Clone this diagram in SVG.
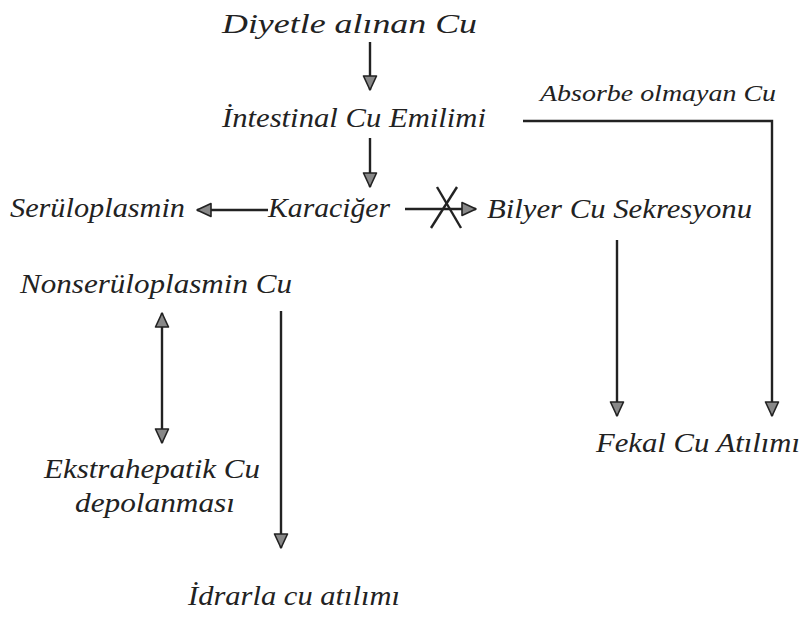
<svg xmlns="http://www.w3.org/2000/svg" width="804" height="617" viewBox="0 0 804 617">
<style>
text{font-family:"Liberation Serif","DejaVu Serif",serif;font-style:italic;font-size:28px;fill:#222}
.sm{font-size:24px}
.ln{stroke:#222;stroke-width:2.4;fill:none}
</style>
<defs>
<marker id="ah" viewBox="0 0 16 16" refX="15" refY="8" markerWidth="16" markerHeight="16" markerUnits="userSpaceOnUse" orient="auto-start-reverse">
<path d="M1,1.5 L15,8 L1,14.5 Z" fill="#888" stroke="#222" stroke-width="1.6" stroke-linejoin="round"/>
</marker>
</defs>
<rect width="804" height="617" fill="#fff"/>
<g id="n-diyet"><text x="222" y="33" textLength="255" lengthAdjust="spacingAndGlyphs">Diyetle alınan Cu</text></g>
<g id="n-intestinal"><text x="222" y="127" textLength="264" lengthAdjust="spacingAndGlyphs">İntestinal Cu Emilimi</text></g>
<g id="n-absorbe"><text class="sm" x="540" y="101" textLength="236" lengthAdjust="spacingAndGlyphs">Absorbe olmayan Cu</text></g>
<g id="n-karaciger"><text x="268" y="217" textLength="122" lengthAdjust="spacingAndGlyphs">Karaciğer</text></g>
<g id="n-seruloplasmin"><text x="10" y="217" textLength="175" lengthAdjust="spacingAndGlyphs">Serüloplasmin</text></g>
<g id="n-bilyer"><text x="487" y="218" textLength="265" lengthAdjust="spacingAndGlyphs">Bilyer Cu Sekresyonu</text></g>
<g id="n-nonserulo"><text x="20" y="293" textLength="272" lengthAdjust="spacingAndGlyphs">Nonserüloplasmin Cu</text></g>
<g id="n-ekstra"><text x="44" y="478" textLength="216" lengthAdjust="spacingAndGlyphs">Ekstrahepatik Cu</text><text x="75" y="512" textLength="160" lengthAdjust="spacingAndGlyphs">depolanması</text></g>
<g id="n-fekal"><text x="596" y="452" textLength="204" lengthAdjust="spacingAndGlyphs">Fekal Cu Atılımı</text></g>
<g id="n-idrar"><text x="188" y="605" textLength="212" lengthAdjust="spacingAndGlyphs">İdrarla cu atılımı</text></g>
<g id="connectors" class="ln">
<line class="ln" x1="370" y1="42" x2="370" y2="90" marker-end="url(#ah)"/>
<line class="ln" x1="370" y1="138" x2="370" y2="187" marker-end="url(#ah)"/>
<line class="ln" x1="268" y1="210" x2="197" y2="210" marker-end="url(#ah)"/>
<line class="ln" x1="405" y1="209" x2="476" y2="209" marker-end="url(#ah)"/>
<line class="ln" x1="437" y1="187" x2="461" y2="228"/>
<line class="ln" x1="457" y1="187" x2="431" y2="228"/>
<polyline class="ln" points="523,121 772,121 772,416" marker-end="url(#ah)"/>
<line class="ln" x1="617" y1="240" x2="617" y2="416" marker-end="url(#ah)"/>
<line class="ln" x1="162" y1="313" x2="162" y2="443" marker-start="url(#ah)" marker-end="url(#ah)"/>
<line class="ln" x1="281" y1="311" x2="281" y2="548" marker-end="url(#ah)"/>
</g>
</svg>
